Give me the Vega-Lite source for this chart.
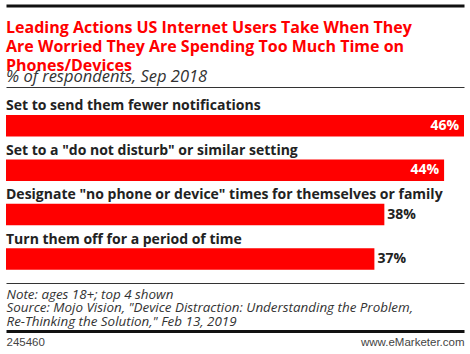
{
  "$schema": "https://vega.github.io/schema/vega-lite/v6.json",
  "autosize": {"type": "none"},
  "padding": {"left": 6, "top": 87, "right": 6, "bottom": 71},
  "width": 458,
  "height": 196,
  "background": "white",
  "title": {
    "text": ["Leading Actions US Internet Users Take When They", "Are Worried They Are Spending Too Much Time on", "Phones/Devices"],
    "subtitle": "% of respondents, Sep 2018",
    "anchor": "start",
    "frame": "group",
    "font": "Open Sans",
    "fontSize": 16,
    "fontWeight": "bold",
    "color": "#FF0000",
    "lineHeight": 19,
    "subtitleFont": "Open Sans",
    "subtitleFontStyle": "italic",
    "subtitleFontSize": 16.5,
    "subtitleColor": "#333333",
    "subtitlePadding": -5,
    "offset": -80
  },
  "data": {
    "values": [
      {"action": "Set to send them fewer notifications", "pct": 0.46},
      {"action": "Set to a \"do not disturb\" or similar setting", "pct": 0.44},
      {"action": "Designate \"no phone or device\" times for themselves or family", "pct": 0.38},
      {"action": "Turn them off for a period of time", "pct": 0.37}
    ]
  },
  "encoding": {
    "y": {"field": "action", "type": "nominal", "sort": null, "axis": null,
          "scale": {"paddingInner": 0, "paddingOuter": 0.207}}
  },
  "layer": [
    {
      "mark": {"type": "bar", "color": "#FF0000", "height": 21.5, "yOffset": 7.4},
      "encoding": {
        "x": {"field": "pct", "type": "quantitative", "scale": {"domain": [0, 0.46], "nice": false},
              "axis": {"orient": "bottom", "offset": -277.5, "domain": true, "domainColor": "#111111", "domainWidth": 3,
                       "ticks": false, "labels": false, "grid": false, "title": null}}
      }
    },
    {
      "mark": {"type": "text", "align": "left", "baseline": "alphabetic", "dy": -8,
               "font": "Open Sans", "fontWeight": "bold", "fontSize": 14, "color": "#222222"},
      "encoding": {
        "x": {"datum": 0, "type": "quantitative",
              "axis": {"orient": "bottom", "domain": true, "domainColor": "#333333", "domainWidth": 1,
                       "ticks": false, "labels": false, "grid": false,
                       "title": ["Note: ages 18+; top 4 shown", "Source: Mojo Vision, \"Device Distraction: Understanding the Problem,", "Re-Thinking the Solution,\" Feb 13, 2019"],
                       "titleFont": "Open Sans", "titleFontStyle": "italic", "titleFontWeight": "normal",
                       "titleFontSize": 13.4, "titleLineHeight": 13.5, "titleColor": "#333333",
                       "titleAnchor": "start", "titleAlign": "left", "titlePadding": 4}},
        "text": {"field": "action"}
      }
    },
    {
      "transform": [{"filter": "datum.pct > 0.4"}],
      "mark": {"type": "text", "align": "right", "baseline": "middle", "dx": -5, "dy": 7.4,
               "font": "Open Sans", "fontWeight": "bold", "fontSize": 14, "color": "white"},
      "encoding": {
        "x": {"field": "pct", "type": "quantitative",
              "axis": {"orient": "top", "domain": true, "domainColor": "#333333", "domainWidth": 1,
                       "ticks": false, "labels": false, "grid": false, "title": null}},
        "text": {"field": "pct", "format": ".0%"}
      }
    },
    {
      "transform": [{"filter": "datum.pct <= 0.4"}],
      "mark": {"type": "text", "align": "left", "baseline": "middle", "dx": 3, "dy": 7.4,
               "font": "Open Sans", "fontWeight": "bold", "fontSize": 14, "color": "#222222"},
      "encoding": {
        "x": {"field": "pct", "type": "quantitative",
              "axis": {"orient": "bottom", "offset": 48, "domain": true, "domainColor": "#111111", "domainWidth": 3,
                       "ticks": false, "tickSize": 0, "grid": false, "title": null,
                       "values": [0, 0.46], "labelFlush": true,
                       "labelExpr": "datum.value == 0 ? '245460' : 'www.eMarketer.com'",
                       "labelFont": "Liberation Sans", "labelFontSize": 11.5, "labelColor": "#444444",
                       "labelPadding": 5}},
        "text": {"field": "pct", "format": ".0%"}
      }
    }
  ],
  "resolve": {"axis": {"x": "independent"}},
  "config": {"view": {"stroke": null}}
}
